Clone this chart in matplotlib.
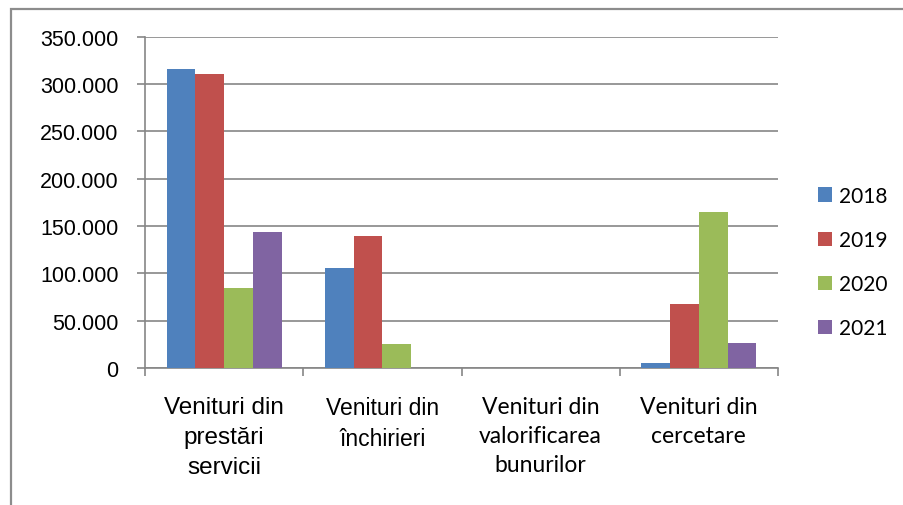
import matplotlib
matplotlib.use("Agg")
import matplotlib.pyplot as plt
from matplotlib.patches import Rectangle
import numpy as np

categories = [
    "Venituri din\nprestări\nservicii",
    "Venituri din\nînchirieri",
    "Venituri din\nvalorificarea\nbunurilor",
    "Venituri din\ncercetare",
]
years = ["2018", "2019", "2020", "2021"]
values_2018 = [316000, 105500, 0, 5000]
values_2019 = [311000, 139000, 0, 67000]
values_2020 = [84500, 25000, 0, 165000]
values_2021 = [144000, 0, 0, 26500]
colors = ["#4F81BD", "#C0504D", "#9BBB59", "#8064A2"]
y_ticks = [0, 50000, 100000, 150000, 200000, 250000, 300000, 350000]
y_tick_labels = ["0", "50.000", "100.000", "150.000", "200.000", "250.000", "300.000", "350.000"]

series = [values_2018, values_2019, values_2020, values_2021]
grid_col = "#868686"

fig = plt.figure(figsize=(9.04, 5.06), dpi=100)
ax = fig.add_axes([145 / 904, 137.2 / 506, 633 / 904, 331 / 506])

x = np.arange(len(categories))
bw = 0.182
for k, (vals, col, yr) in enumerate(zip(series, colors, years)):
    ax.bar(x + (k - 1.5) * bw, vals, width=bw, color=col, label=yr,
           linewidth=0, zorder=3)

ax.set_xlim(-0.5, len(categories) - 0.5)
ax.set_ylim(0, 350000)
ax.set_yticks(y_ticks)
ax.set_yticklabels(y_tick_labels, fontfamily="Liberation Sans", fontsize=15.5)
ax.tick_params(axis="y", length=6, width=1.2, color=grid_col, pad=13)
ax.yaxis.grid(True, color=grid_col, linewidth=1.2, zorder=0)

# category ticks at group boundaries, labels drawn separately
ax.set_xticks(np.arange(len(categories) + 1) - 0.5)
ax.set_xticklabels([])
ax.tick_params(axis="x", length=6, width=1.2, color=grid_col, direction="out")

for s in ["top", "right"]:
    ax.spines[s].set_visible(False)
for s in ["left", "bottom"]:
    ax.spines[s].set_color(grid_col)
    ax.spines[s].set_linewidth(1.2)

label_fonts = [("Liberation Sans", 17.5), ("Liberation Sans", 16.5),
               ("Lato", 16.5), ("Lato", 16.5)]
for i, (lab, (fam, fs)) in enumerate(zip(categories, label_fonts)):
    ax.annotate(lab, xy=(i, 0), xycoords=("data", "axes fraction"),
                xytext=(0, -28), textcoords="offset pixels",
                ha="center", va="top", fontfamily=fam, fontsize=fs,
                linespacing=1.48, multialignment="center")

ax.legend(loc="center left", bbox_to_anchor=(818 / 904, 0.48),
          bbox_transform=fig.transFigure, frameon=False,
          prop={"family": "Lato", "size": 15},
          handlelength=0.67, handleheight=0.67, handletextpad=0.34,
          labelspacing=1.16, borderpad=0, borderaxespad=0)

# outer chart frame
fig.add_artist(Rectangle((11 / 904, -0.2), 2.0, 1.18, transform=fig.transFigure,
                         fill=False, edgecolor="#8c8c8c", linewidth=1.6,
                         clip_on=False))

fig.savefig("out.png", dpi=100)
